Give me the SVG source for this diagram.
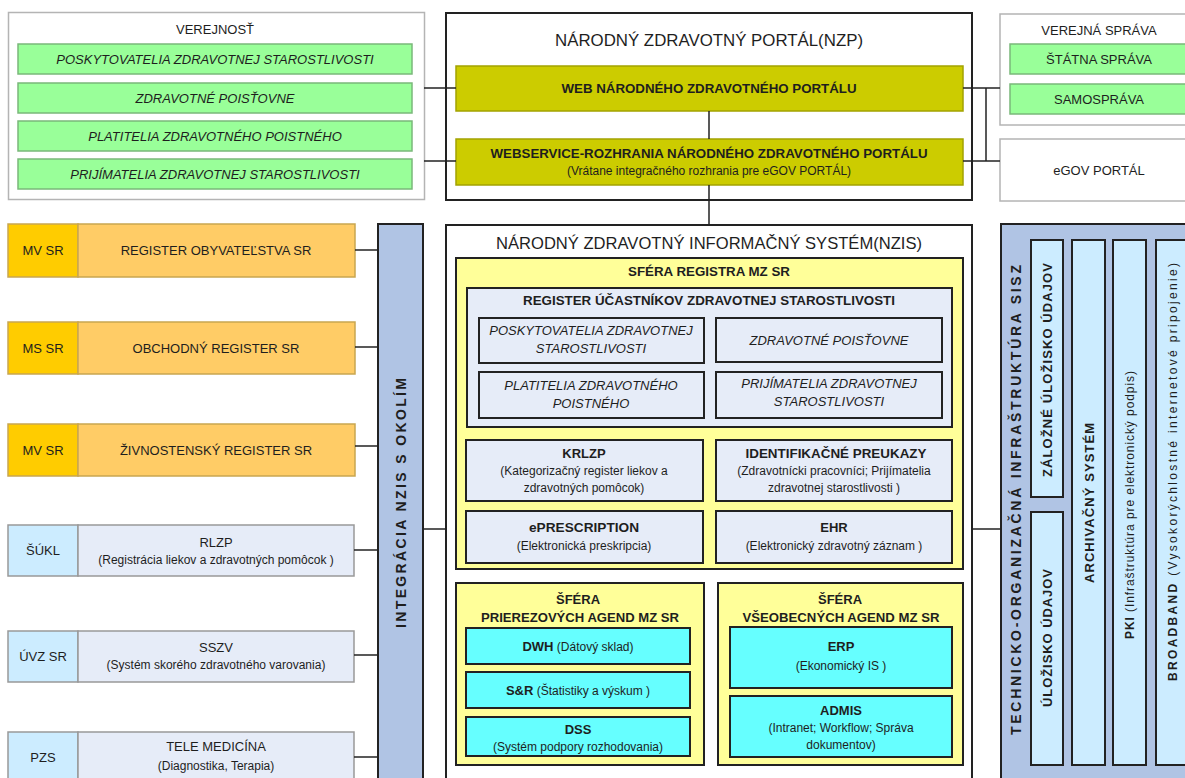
<svg xmlns="http://www.w3.org/2000/svg" width="1185" height="778" viewBox="0 0 1185 778">
  <style>
    text { font-family: "Liberation Sans", Arial, sans-serif; fill: #1e1e1e; text-anchor: middle; }
    .t13 { font-size: 13px; }
    .t12 { font-size: 12px; }
    .it { font-size: 13px; font-style: italic; }
    .hd { font-size: 13px; font-weight: bold; }
    .ttl { font-size: 16.5px; }
    .vt { font-size: 14px; font-weight: bold; }
    .vs { font-size: 12px; }
    .b { font-weight: bold; }
    .frame { fill: #ffffff; stroke: #b4b4b4; stroke-width: 1.5; }
    .main { fill: #ffffff; stroke: #222; stroke-width: 2; }
    .green { fill: #99ff99; stroke: #7ab87a; stroke-width: 1.5; }
    .olive { fill: #cccc00; stroke: #a3a300; stroke-width: 1.5; }
    .gold { fill: #ffcc00; stroke: #c9a650; stroke-width: 1.5; }
    .amber { fill: #ffcc66; stroke: #c9a650; stroke-width: 1.5; }
    .sky { fill: #ccecff; stroke: #999; stroke-width: 1.5; }
    .pale { fill: #e6ecf8; stroke: #999; stroke-width: 1.5; }
    .steel { fill: #b0c4e4; stroke: #222; stroke-width: 2; }
    .sphere { fill: #ffff99; stroke: #222; stroke-width: 2; }
    .reg { fill: #e6ecf8; stroke: #222; stroke-width: 2; }
    .cyan { fill: #66ffff; stroke: #222; stroke-width: 2; }
    .col { fill: #ccecff; stroke: #222; stroke-width: 2; }
    .conn line { stroke: #222; stroke-width: 1.5; }
  </style>

  <!-- Public actors -->
  <g id="verejnost">
    <rect class="frame" x="8.5" y="12.5" width="416" height="187"/>
    <text class="t13" x="215" y="34">VEREJNOSŤ</text>
    <rect class="green" x="18" y="44" width="394" height="30"/>
    <text class="it" x="215" y="63.5">POSKYTOVATELIA ZDRAVOTNEJ STAROSTLIVOSTI</text>
    <rect class="green" x="18" y="83" width="394" height="30"/>
    <text class="it" x="215" y="102.5">ZDRAVOTNÉ POISŤOVNE</text>
    <rect class="green" x="18" y="121" width="394" height="30"/>
    <text class="it" x="215" y="140.5">PLATITELIA ZDRAVOTNÉHO POISTNÉHO</text>
    <rect class="green" x="18" y="159" width="394" height="30"/>
    <text class="it" x="215" y="178.5">PRIJÍMATELIA  ZDRAVOTNEJ STAROSTLIVOSTI</text>
  </g>

  <!-- National health portal -->
  <g id="nzp">
    <rect class="main" x="446" y="13" width="526" height="187"/>
    <text class="ttl" x="709" y="46" textLength="308" lengthAdjust="spacingAndGlyphs">NÁRODNÝ ZDRAVOTNÝ PORTÁL(NZP)</text>
    <rect class="olive" x="456" y="66" width="507" height="45"/>
    <text class="hd" x="709" y="92.5" textLength="295" lengthAdjust="spacingAndGlyphs">WEB NÁRODNÉHO ZDRAVOTNÉHO PORTÁLU</text>
    <rect class="olive" x="456" y="139" width="507" height="46"/>
    <text class="hd" x="709" y="157.5" textLength="437" lengthAdjust="spacingAndGlyphs">WEBSERVICE-ROZHRANIA NÁRODNÉHO ZDRAVOTNÉHO PORTÁLU</text>
    <text class="t12" x="709" y="174.5">(Vrátane integračného rozhrania pre eGOV PORTÁL)</text>
  </g>

  <!-- Public administration -->
  <g id="verejna-sprava">
    <rect class="frame" x="1000" y="14" width="198" height="111"/>
    <text class="t13" x="1099" y="34.5">VEREJNÁ SPRÁVA</text>
    <rect class="green" x="1010" y="44" width="178" height="30"/>
    <text class="t13" x="1099" y="63.5">ŠTÁTNA SPRÁVA</text>
    <rect class="green" x="1010" y="84" width="178" height="30"/>
    <text class="t13" x="1099" y="103.5">SAMOSPRÁVA</text>
  </g>

  <g id="egov">
    <rect class="frame" x="1000" y="139" width="198" height="62"/>
    <text class="t13" x="1099" y="174.5">eGOV PORTÁL</text>
  </g>

  <!-- External registers -->
  <g id="reg-obyvatelstva">
    <rect class="gold" x="8" y="224" width="70" height="53"/>
    <rect class="amber" x="78" y="224" width="277" height="53"/>
    <text class="t13" x="43" y="255">MV SR</text>
    <text class="t13" x="216" y="255">REGISTER OBYVATEĽSTVA SR</text>
  </g>
  <g id="reg-obchodny">
    <rect class="gold" x="8" y="322" width="70" height="52"/>
    <rect class="amber" x="78" y="322" width="277" height="52"/>
    <text class="t13" x="43" y="352.5">MS SR</text>
    <text class="t13" x="216" y="352.5">OBCHODNÝ REGISTER SR</text>
  </g>
  <g id="reg-zivnostensky">
    <rect class="gold" x="8" y="424" width="70" height="52"/>
    <rect class="amber" x="78" y="424" width="277" height="52"/>
    <text class="t13" x="43" y="454.5">MV SR</text>
    <text class="t13" x="216" y="454.5">ŽIVNOSTENSKÝ REGISTER SR</text>
  </g>
  <g id="rlzp">
    <rect class="sky" x="8" y="525" width="70" height="51"/>
    <rect class="pale" x="78" y="525" width="276" height="51"/>
    <text class="t13" x="43" y="555">ŠÚKL</text>
    <text class="t13" x="216" y="546.5">RLZP</text>
    <text class="t12" x="216" y="563.5">(Registrácia liekov a zdravotných pomôcok )</text>
  </g>
  <g id="sszv">
    <rect class="sky" x="8" y="631" width="70" height="51"/>
    <rect class="pale" x="78" y="631" width="276" height="51"/>
    <text class="t13" x="43" y="661">ÚVZ SR</text>
    <text class="t13" x="216" y="652">SSZV</text>
    <text class="t12" x="216" y="669">(Systém skorého zdravotného varovania)</text>
  </g>
  <g id="telemedicina">
    <rect class="sky" x="8" y="732" width="70" height="60"/>
    <rect class="pale" x="78" y="732" width="276" height="60"/>
    <text class="t13" x="43" y="762">PZS</text>
    <text class="t13" x="216" y="751">TELE MEDICÍNA</text>
    <text class="t12" x="216" y="769.5">(Diagnostika, Terapia)</text>
  </g>

  <!-- Integration layer -->
  <g id="integracia">
    <rect class="steel" x="378" y="224" width="45" height="570"/>
    <text class="vt" x="401" y="503" dy="5" transform="rotate(-90 401 503)" textLength="250" lengthAdjust="spacing">INTEGRÁCIA NZIS S OKOLÍM</text>
  </g>

  <!-- National health information system -->
  <g id="nzis">
    <rect class="main" x="446" y="225" width="526" height="570"/>
    <text class="ttl" x="709" y="249" textLength="426" lengthAdjust="spacingAndGlyphs">NÁRODNÝ ZDRAVOTNÝ INFORMAČNÝ SYSTÉM(NZIS)</text>
  </g>

  <g id="sfera-registra">
    <rect class="sphere" x="456" y="258" width="507" height="311"/>
    <text class="hd" x="709" y="276" textLength="162" lengthAdjust="spacingAndGlyphs">SFÉRA REGISTRA MZ SR</text>
  </g>

  <g id="register-ucastnikov">
    <rect class="reg" x="467" y="288" width="485" height="139"/>
    <text class="hd" x="709" y="305" textLength="372" lengthAdjust="spacingAndGlyphs">REGISTER ÚČASTNÍKOV ZDRAVOTNEJ STAROSTLIVOSTI</text>
  </g>
  <g id="ru-poskytovatelia">
    <rect class="reg" x="479" y="318" width="225" height="45"/>
    <text class="it" x="591" y="334.5">POSKYTOVATELIA ZDRAVOTNEJ</text>
    <text class="it" x="591" y="352.5">STAROSTLIVOSTI</text>
  </g>
  <g id="ru-poistovne">
    <rect class="reg" x="716" y="318" width="226" height="44"/>
    <text class="it" x="829" y="344.5">ZDRAVOTNÉ POISŤOVNE</text>
  </g>
  <g id="ru-platitelia">
    <rect class="reg" x="479" y="372" width="225" height="46"/>
    <text class="it" x="591" y="389.5">PLATITELIA ZDRAVOTNÉHO</text>
    <text class="it" x="591" y="407.5">POISTNÉHO</text>
  </g>
  <g id="ru-prijimatelia">
    <rect class="reg" x="716" y="372" width="226" height="46"/>
    <text class="it" x="829" y="387.5">PRIJÍMATELIA  ZDRAVOTNEJ</text>
    <text class="it" x="829" y="405.5">STAROSTLIVOSTI</text>
  </g>

  <g id="krlzp">
    <rect class="reg" x="466" y="440" width="237" height="61"/>
    <text class="hd" x="584" y="457.5">KRLZP</text>
    <text class="t12" x="584" y="474.5">(Kategorizačný register liekov a</text>
    <text class="t12" x="584" y="491.5">zdravotných pomôcok)</text>
  </g>
  <g id="identifikacne-preukazy">
    <rect class="reg" x="716" y="440" width="236" height="61"/>
    <text class="hd" x="836" y="457.5" textLength="181" lengthAdjust="spacingAndGlyphs">IDENTIFIKAČNÉ PREUKAZY</text>
    <text class="t12" x="834" y="474.5">(Zdravotnícki pracovníci; Prijímatelia</text>
    <text class="t12" x="834" y="491.5">zdravotnej starostlivosti )</text>
  </g>
  <g id="eprescription">
    <rect class="reg" x="466" y="511" width="237" height="52"/>
    <text class="hd" x="584" y="531.5" textLength="110" lengthAdjust="spacingAndGlyphs">ePRESCRIPTION</text>
    <text class="t12" x="584" y="549.5">(Elektronická preskripcia)</text>
  </g>
  <g id="ehr">
    <rect class="reg" x="716" y="511" width="236" height="52"/>
    <text class="hd" x="834" y="531.5">EHR</text>
    <text class="t12" x="834" y="549.5">(Elektronický zdravotný záznam )</text>
  </g>

  <g id="sfera-prierezovych">
    <rect class="sphere" x="456" y="583" width="248" height="182"/>
    <text class="hd" x="578" y="603.5">ŠFÉRA</text>
    <text class="hd" x="580" y="621.5" textLength="198" lengthAdjust="spacingAndGlyphs">PRIEREZOVÝCH AGEND MZ SR</text>
  </g>
  <g id="dwh">
    <rect class="cyan" x="466" y="628" width="224" height="36"/>
    <text class="t12" x="578" y="650.5"><tspan class="b" font-size="13">DWH</tspan> (Dátový sklad)</text>
  </g>
  <g id="s-r">
    <rect class="cyan" x="466" y="672" width="224" height="36"/>
    <text class="t12" x="578" y="694.5"><tspan class="b" font-size="13">S&amp;R</tspan> (Štatistiky a výskum )</text>
  </g>
  <g id="dss">
    <rect class="cyan" x="466" y="717" width="224" height="39"/>
    <text class="hd" x="578" y="733.5">DSS</text>
    <text class="t12" x="578" y="750.5">(Systém podpory rozhodovania)</text>
  </g>

  <g id="sfera-vseobecnych">
    <rect class="sphere" x="718" y="583" width="245" height="182"/>
    <text class="hd" x="840" y="603.5">ŠFÉRA</text>
    <text class="hd" x="841" y="621.5" textLength="197" lengthAdjust="spacingAndGlyphs">VŠEOBECNÝCH AGEND MZ SR</text>
  </g>
  <g id="erp">
    <rect class="cyan" x="730" y="627" width="222" height="61"/>
    <text class="hd" x="841" y="650.5">ERP</text>
    <text class="t12" x="841" y="670">(Ekonomický IS )</text>
  </g>
  <g id="admis">
    <rect class="cyan" x="730" y="696" width="222" height="61"/>
    <text class="hd" x="841" y="714.5">ADMIS</text>
    <text class="t12" x="841" y="731.5">(Intranet; Workflow; Správa</text>
    <text class="t12" x="841" y="748.5">dokumentov)</text>
  </g>

  <!-- Technical and organisational infrastructure -->
  <g id="infrastruktura">
    <rect class="steel" x="1001" y="224" width="200" height="570"/>
    <text class="vt" x="1016" y="500" dy="5" transform="rotate(-90 1016 500)" textLength="470" lengthAdjust="spacing">TECHNICKO-ORGANIZAČNÁ INFRAŠTRUKTÚRA SISZ</text>
  </g>
  <g id="zalozne-ulozisko">
    <rect class="col" x="1031" y="240" width="32" height="257"/>
    <text class="hd" x="1047" y="370" dy="4.5" transform="rotate(-90 1047 370)" textLength="214" lengthAdjust="spacing">ZÁLOŽNÉ ÚLOŽISKO ÚDAJOV</text>
  </g>
  <g id="ulozisko">
    <rect class="col" x="1031" y="512" width="32" height="253"/>
    <text class="hd" x="1047" y="638" dy="4.5" transform="rotate(-90 1047 638)" textLength="138" lengthAdjust="spacing">ÚLOŽISKO ÚDAJOV</text>
  </g>
  <g id="archivacny-system">
    <rect class="col" x="1072" y="240" width="33" height="525"/>
    <text class="hd" x="1089" y="503" dy="4.5" transform="rotate(-90 1089 503)" textLength="160" lengthAdjust="spacing">ARCHIVAČNÝ SYSTÉM</text>
  </g>
  <g id="pki">
    <rect class="col" x="1113" y="240" width="33" height="525"/>
    <text class="vs" x="1130" y="505" dy="4" transform="rotate(-90 1130 505)" textLength="268" lengthAdjust="spacing"><tspan class="b">PKI</tspan> (Infraštruktúra pre elektronický podpis)</text>
  </g>
  <g id="broadband">
    <rect class="col" x="1156" y="240" width="40" height="525"/>
    <text class="vs" x="1173" y="472" dy="4" transform="rotate(-90 1173 472)" textLength="418" lengthAdjust="spacing"><tspan class="b">BROADBAND</tspan> (Vysokorýchlostné internetové pripojenie)</text>
  </g>

  <!-- Connectors -->
  <g id="connectors" class="conn">
    <line x1="424" y1="88" x2="456" y2="88"/>
    <line x1="424" y1="161" x2="456" y2="161"/>
    <line x1="963" y1="88" x2="1000" y2="88"/>
    <line x1="963" y1="161" x2="1000" y2="161"/>
    <line x1="986" y1="88" x2="986" y2="161"/>
    <line x1="709" y1="111" x2="709" y2="139"/>
    <line x1="709" y1="185" x2="709" y2="225"/>
    <line x1="355" y1="250" x2="378" y2="250"/>
    <line x1="355" y1="347" x2="378" y2="347"/>
    <line x1="355" y1="446" x2="378" y2="446"/>
    <line x1="354" y1="550" x2="378" y2="550"/>
    <line x1="354" y1="655" x2="378" y2="655"/>
    <line x1="354" y1="757" x2="378" y2="757"/>
    <line x1="423" y1="529" x2="446" y2="529"/>
    <line x1="972" y1="529" x2="1001" y2="529"/>
  </g>
</svg>
